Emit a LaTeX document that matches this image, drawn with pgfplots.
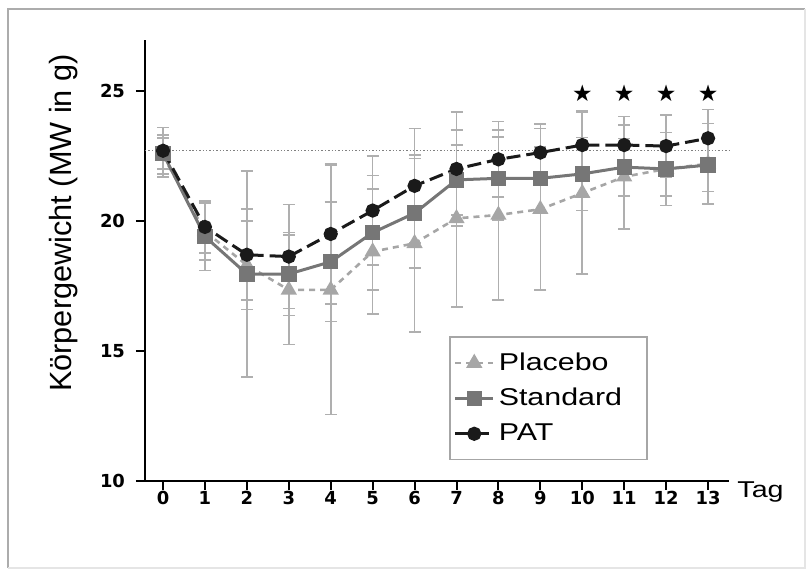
\documentclass[border=0pt]{standalone}
\usepackage{pgfplots}
\pgfplotsset{compat=1.18}
\usepackage{pgfplotstable}
\usepackage{fontspec}
\setmainfont{Liberation Sans}
\newfontfamily\widefont[FakeStretch=1.25]{Liberation Sans}
\newfontfamily\tickfont{DejaVu Sans}
\newfontfamily\symfont{DejaVu Sans}

\definecolor{errgray}{HTML}{AFAFAF}
\definecolor{placebo}{HTML}{A6A6A6}
\definecolor{standard}{HTML}{767676}
\definecolor{pat}{HTML}{1A1A1A}

% x  mean  sd
\pgfplotstableread{
x y e
0 22.5 0.8
1 19.6 1.1
2 18.3 1.7
3 17.35 2.1
4 17.35 4.8
5 18.82 2.4
6 19.14 3.4
7 20.1 3.4
8 20.23 3.27
9 20.45 3.1
10 21.07 3.1
11 21.7 2.0
12 22.0 1.4
13 22.2 1.55
}\placebotab

\pgfplotstableread{
x y e
0 22.6 0.6
1 19.4 1.3
2 17.96 3.95
3 17.96 1.6
4 18.43 2.3
5 19.55 2.2
6 20.3 2.1
7 21.58 1.35
8 21.64 1.6
9 21.64 1.2
10 21.81 1.4
11 22.07 1.1
12 22.0 1.04
13 22.15 1.02
}\standardtab

\pgfplotstableread{
x y e
0 22.7 0.9
1 19.77 1.0
2 18.7 1.75
3 18.63 2.0
4 19.5 2.7
5 20.4 2.1
6 21.35 2.2
7 22.0 2.2
8 22.37 1.45
9 22.63 1.1
10 22.92 1.3
11 22.92 1.1
12 22.88 1.2
13 23.18 1.1
}\pattab

\begin{document}
\begin{tikzpicture}
\begin{axis}[
    scale only axis,
    width=292bp, height=220.5bp,
    xmin=-0.43, xmax=13.5,
    ymin=10, ymax=26.96,
    axis lines=left,
    axis line style={-, line width=1.3bp},
    tick align=outside,
    major tick length=4.5bp,
    tick style={line width=1bp, black},
    xtick={0,...,13},
    xticklabels={0,1,2,3,4,5,6,7,8,9,10,11,12,13},
    ytick={10,15,20,25},
    yticklabels={10,15,20,25},
    tick label style={font=\tickfont\bfseries\fontsize{9}{10}\selectfont},
    xticklabel style={yshift=3bp},
    yticklabel style={xshift=-2bp},
    ylabel={Körpergewicht (MW in g)},
    ylabel style={at={(axis description cs:-0.139,0.585)}, anchor=center,
        font=\fontsize{15.4}{18}\selectfont},
    xlabel={Tag},
    xlabel style={at={(axis description cs:1.0137,-0.038)}, anchor=base west,
        inner sep=0pt, font=\widefont\fontsize{11.5}{13}\selectfont},
    error bars/error bar style={line width=0.8bp, errgray, solid},
    error bars/error mark options={rotate=90, mark size=3bp, line width=0.8bp, errgray, solid},
    legend style={at={(axis description cs:0.5205,0.3288)}, anchor=north west,
        draw=gray!70, line width=0.8bp, row sep=3.5bp,
        inner xsep=2bp, inner ysep=6bp,
        font=\widefont\fontsize{12.2}{14}\selectfont},
    legend cell align=left,
    legend image code/.code={\draw[mark repeat=2,mark phase=2,#1]
        plot coordinates {(0bp,0bp) (9.5bp,0bp) (19bp,0bp)};},
    clip=false,
]

% Referenzlinie (Ausgangsgewicht)
\addplot[gray, line width=0.7bp, densely dotted, forget plot]
    coordinates {(-0.43,22.7) (13.5,22.7)};

\addplot[placebo, line width=1.3bp, dash pattern=on 3bp off 2.5bp,
    mark=triangle*, mark size=3.4bp, mark options={solid, fill=placebo},
    error bars/.cd, y dir=both, y explicit]
    table[x=x, y=y, y error=e] {\placebotab};
\addlegendentry{\makebox[70bp][l]{Placebo}}

\addplot[standard, line width=1.5bp, solid,
    mark=square*, mark size=3.1bp, mark options={solid, fill=standard},
    error bars/.cd, y dir=both, y explicit]
    table[x=x, y=y, y error=e] {\standardtab};
\addlegendentry{\makebox[70bp][l]{Standard}}

\addplot[pat, line width=1.5bp, dash pattern=on 7bp off 3bp,
    mark=*, mark size=2.8bp, mark options={solid, fill=pat},
    error bars/.cd, y dir=both, y explicit]
    table[x=x, y=y, y error=e] {\pattab};
\addlegendentry{\makebox[70bp][l]{PAT}}

% Signifikanz
\addplot[only marks, mark=text, text mark={\symfont\fontsize{11.5}{12}\selectfont ★}, forget plot]
    coordinates {(10,24.92) (11,24.92) (12,24.92) (13,24.92)};

\end{axis}
\begin{scope}[x=0.5bp, y=0.5bp]
\draw[gray!65, line width=1bp] (-137,-87) -- (-137,472) -- (660,472);
\draw[gray!20, line width=1bp] (660,472) -- (660,-87) -- (-137,-87);
\pgfresetboundingbox
\path[use as bounding box] (-145,-89) rectangle (663,481);
\end{scope}
\end{tikzpicture}
\end{document}
